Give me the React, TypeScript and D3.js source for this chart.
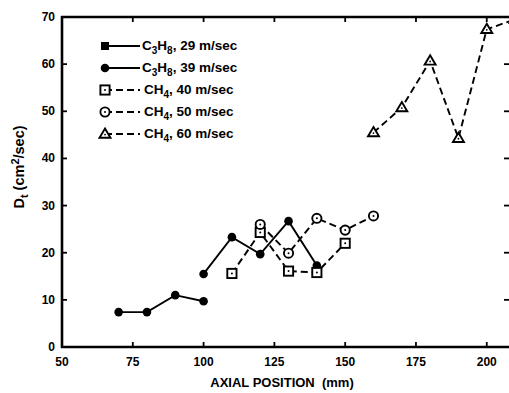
import React from "react";
import * as d3 from "d3";

const xTicks = [50, 75, 100, 125, 150, 175, 200];
const yTicks = [0, 10, 20, 30, 40, 50, 60, 70];

const c3h8_29_x = [70, 80, 90, 100];
const c3h8_29_y = [7.4, 7.4, 11.0, 9.7];
const c3h8_39_x = [100, 110, 120, 130, 140];
const c3h8_39_y = [15.5, 23.3, 19.7, 26.7, 17.3];
const ch4_40_x = [110, 120, 130, 140, 150];
const ch4_40_y = [15.6, 24.3, 16.1, 15.8, 22.0];
const ch4_50_x = [120, 130, 140, 150, 160];
const ch4_50_y = [26.0, 19.9, 27.3, 24.8, 27.8];
const ch4_60_x = [160, 170, 180, 190, 200, 210];
const ch4_60_y = [45.5, 50.8, 60.7, 44.3, 67.4, 69.5];

type Sym = "fsquare" | "fcircle" | "osquare" | "ocircle" | "triangle";

const series: { x: number[]; y: number[]; sym: Sym; dashed: boolean; gas: string; label: string }[] = [
  { x: c3h8_29_x, y: c3h8_29_y, sym: "fcircle", dashed: false, gas: "C3H8", label: ", 29 m/sec" },
  { x: c3h8_39_x, y: c3h8_39_y, sym: "fcircle", dashed: false, gas: "C3H8", label: ", 39 m/sec" },
  { x: ch4_40_x, y: ch4_40_y, sym: "osquare", dashed: true, gas: "CH4", label: ", 40 m/sec" },
  { x: ch4_50_x, y: ch4_50_y, sym: "ocircle", dashed: true, gas: "CH4", label: ", 50 m/sec" },
  { x: ch4_60_x, y: ch4_60_y, sym: "triangle", dashed: true, gas: "CH4", label: ", 60 m/sec" },
];
const legendSyms: Sym[] = ["fsquare", "fcircle", "osquare", "ocircle", "triangle"];

const L = 62, R = 508, T = 17, B = 347;
const x = d3.scaleLinear().domain([50, 207.5]).range([L, R]);
const y = d3.scaleLinear().domain([0, 70]).range([B, T]);
const font = "'Liberation Sans', Arial, Helvetica, sans-serif";

function Marker({ sym, cx, cy }: { sym: Sym; cx: number; cy: number }) {
  switch (sym) {
    case "fsquare":
      return <rect x={cx - 4} y={cy - 4} width={8} height={8} fill="#000" />;
    case "fcircle":
      return <circle cx={cx} cy={cy} r={4.3} fill="#000" />;
    case "osquare":
      return (
        <g>
          <rect x={cx - 4.6} y={cy - 4.6} width={9.2} height={9.2} fill="#fff" stroke="#000" strokeWidth={1.9} />
          <circle cx={cx} cy={cy} r={1} fill="#000" />
        </g>
      );
    case "ocircle":
      return (
        <g>
          <circle cx={cx} cy={cy} r={4.6} fill="#fff" stroke="#000" strokeWidth={1.9} />
          <circle cx={cx} cy={cy} r={1} fill="#000" />
        </g>
      );
    case "triangle":
      return (
        <g>
          <path d={`M${cx},${cy - 5.5} L${cx + 5.5},${cy + 3.8} L${cx - 5.5},${cy + 3.8} Z`} fill="#fff" stroke="#000" strokeWidth={1.9} />
          <circle cx={cx} cy={cy + 0.6} r={0.9} fill="#000" />
        </g>
      );
  }
}

function GasLabel({ gas, label, tx, ty }: { gas: string; label: string; tx: number; ty: number }) {
  if (gas === "C3H8") {
    return (
      <text x={tx} y={ty} fontFamily={font} fontSize={13.5} fontWeight="bold" fill="#000">
        C<tspan dy={3.5} fontSize={10}>3</tspan>
        <tspan dy={-3.5}>H</tspan>
        <tspan dy={3.5} fontSize={10}>8</tspan>
        <tspan dy={-3.5}>{label}</tspan>
      </text>
    );
  }
  return (
    <text x={tx} y={ty} fontFamily={font} fontSize={13.5} fontWeight="bold" fill="#000">
      CH<tspan dy={3.5} fontSize={10}>4</tspan>
      <tspan dy={-3.5}>{label}</tspan>
    </text>
  );
}

export default function App() {
  const line = d3.line<[number, number]>().x((d) => x(d[0])).y((d) => y(d[1]));
  const legendY = [46, 68, 90, 112, 134];
  return (
    <svg width={509} height={393} style={{ position: "absolute", left: 0, top: 0, background: "#fff" }}>
      <defs>
        <clipPath id="plot">
          <rect x={L} y={T} width={R - L + 10} height={B - T} />
        </clipPath>
      </defs>
      <rect x={0} y={0} width={509} height={393} fill="#fff" />
      <g clipPath="url(#plot)">
        {series.map((s, i) => (
          <path
            key={"l" + i}
            d={line(s.x.map((v, j) => [v, s.y[j]] as [number, number])) || ""}
            fill="none"
            stroke="#000"
            strokeWidth={1.9}
            strokeDasharray={s.dashed ? "7,4" : undefined}
          />
        ))}
        {series.map((s, i) =>
          s.x.map((v, j) => <Marker key={"m" + i + "-" + j} sym={s.sym} cx={x(v)} cy={y(s.y[j])} />)
        )}
      </g>
      <line x1={L} y1={T - 1} x2={L} y2={B + 1} stroke="#000" strokeWidth={2.6} />
      <line x1={L - 1} y1={B} x2={509} y2={B} stroke="#000" strokeWidth={2.4} />
      <line x1={L - 1} y1={T} x2={509} y2={T} stroke="#000" strokeWidth={2.4} />
      {xTicks.map((t) => (
        <g key={"xt" + t}>
          {t > 50 && <line x1={x(t)} x2={x(t)} y1={B} y2={B - 5} stroke="#000" strokeWidth={1.8} />}
          {t > 50 && <line x1={x(t)} x2={x(t)} y1={T} y2={T + 5} stroke="#000" strokeWidth={1.8} />}
          <text x={x(t)} y={B + 19} textAnchor="middle" fontFamily={font} fontSize={12} fontWeight="bold">
            {t}
          </text>
        </g>
      ))}
      {yTicks.map((t) => (
        <g key={"yt" + t}>
          {t > 0 && t < 70 && <line x1={L} x2={L + 5} y1={y(t)} y2={y(t)} stroke="#000" strokeWidth={1.8} />}
          {t > 0 && t < 70 && <line x1={509} x2={504} y1={y(t)} y2={y(t)} stroke="#000" strokeWidth={1.8} />}
          <text x={L - 7} y={y(t) + 4} textAnchor="end" fontFamily={font} fontSize={12} fontWeight="bold">
            {t}
          </text>
        </g>
      ))}
      <text x={282} y={387} textAnchor="middle" fontFamily={font} fontSize={13} fontWeight="bold" style={{ whiteSpace: "pre" }}>
        {"AXIAL POSITION  (mm)"}
      </text>
      <text transform="translate(24,167) rotate(-90)" textAnchor="middle" fontFamily={font} fontSize={14.5} fontWeight="bold" style={{ whiteSpace: "pre" }}>
        D<tspan dy={3.5} fontSize={11}>t</tspan>
        <tspan dy={-3.5}>{" (cm"}</tspan>
        <tspan dy={-5.5} fontSize={11}>2</tspan>
        <tspan dy={5.5}>/sec)</tspan>
      </text>
      {series.map((s, i) => {
        const ly = legendY[i];
        return (
          <g key={"lg" + i}>
            <line x1={105} x2={140} y1={ly} y2={ly} stroke="#000" strokeWidth={1.9} strokeDasharray={s.dashed ? "7,4" : undefined} />
            <Marker sym={legendSyms[i]} cx={105} cy={ly} />
            <GasLabel gas={s.gas} label={s.label} tx={s.gas === "C3H8" ? 142 : 144} ty={ly + 4} />
          </g>
        );
      })}
    </svg>
  );
}
